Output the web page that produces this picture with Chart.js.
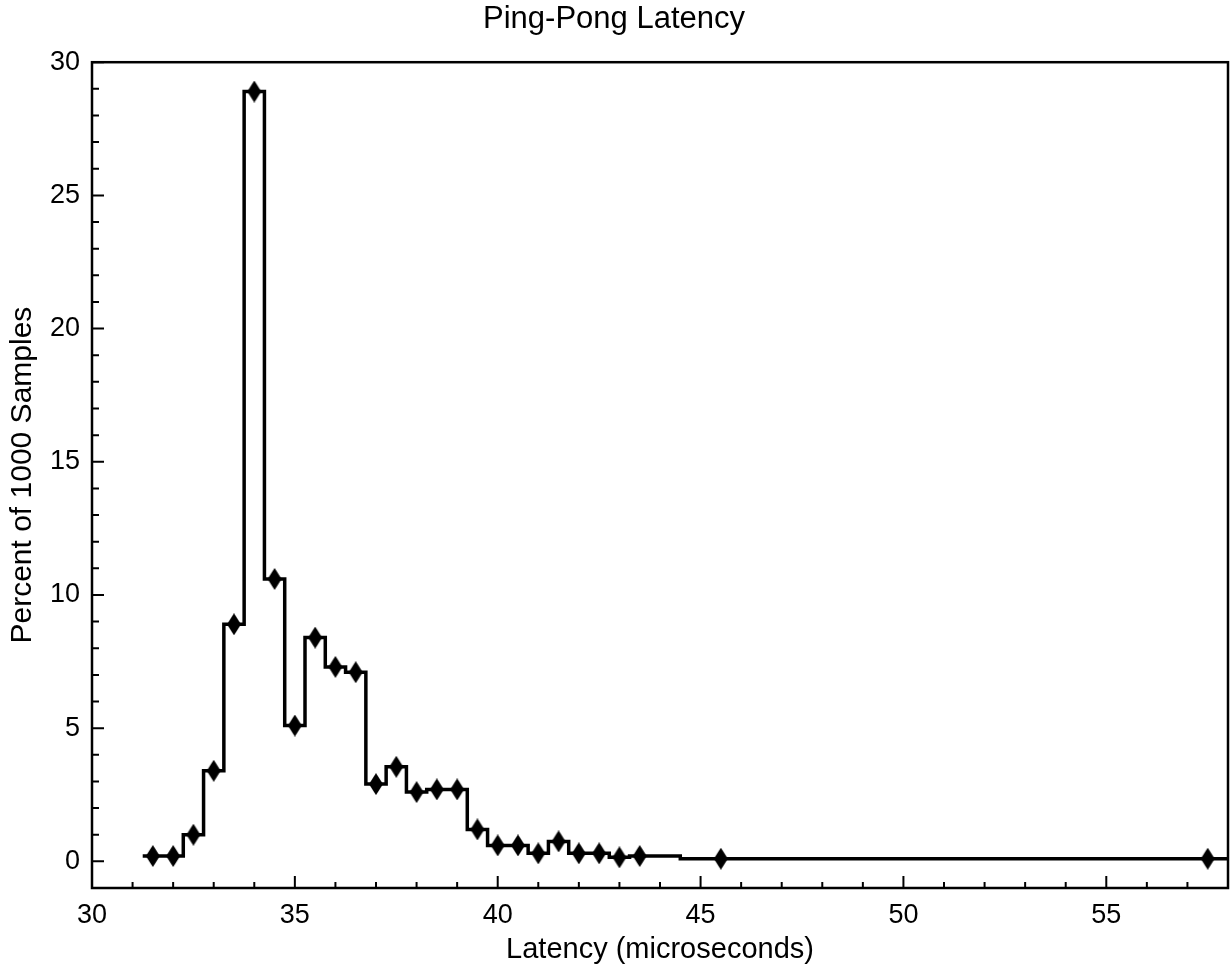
<!DOCTYPE html>
<html>
<head>
<meta charset="utf-8">
<title>Ping-Pong Latency</title>
<script src="https://cdn.jsdelivr.net/npm/chart.js@4/dist/chart.umd.min.js"></script>
<style>
  html, body { margin: 0; padding: 0; background: #fff; }
  canvas { display: block; }
</style>
</head>
<body>
<canvas id="latencyChart" width="1231" height="967"></canvas>
<script>
// Histogram bins (microseconds) and percent of samples in each bin
const latency = [31.5, 32, 32.5, 33, 33.5, 34, 34.5, 35, 35.5, 36, 36.5, 37, 37.5,
                 38, 38.5, 39, 39.5, 40, 40.5, 41, 41.5, 42, 42.5, 43, 43.5, 45.5, 57.5];
const percent = [0.2, 0.2, 1.0, 3.4, 8.9, 28.9, 10.6, 5.1, 8.4, 7.3, 7.1, 2.9, 3.55,
                 2.6, 2.7, 2.7, 1.2, 0.6, 0.6, 0.3, 0.75, 0.3, 0.3, 0.15, 0.2, 0.1, 0.1];

// Tick labels
const xTicks = [30, 35, 40, 45, 50, 55];
const yTicks = [0, 5, 10, 15, 20, 25, 30];

const xMin = 30, xMax = 58;
const yMin = -1, yMax = 30;
const binHalf = 0.25;

const FONT = "'Liberation Sans', Arial, Helvetica, sans-serif";

// tall diamond marker
function makeDiamond(w, h) {
    const c = document.createElement('canvas');
    c.width = w;
    c.height = h;
    const g = c.getContext('2d');
    g.fillStyle = '#000';
    g.beginPath();
    g.moveTo(w / 2, 0);
    g.lineTo(w, h / 2);
    g.lineTo(w / 2, h);
    g.lineTo(0, h / 2);
    g.closePath();
    g.fill();
    return c;
}
const diamond = makeDiamond(14, 22);

const points = latency.map((x, i) => ({ x: x, y: percent[i] }));

// step line extends half a bin before the first point and to the right edge
const stepLine = [{ x: latency[0] - binHalf, y: percent[0] }]
    .concat(points)
    .concat([{ x: xMax, y: percent[percent.length - 1] }]);

// frame and inward tick marks
const framePlugin = {
    id: 'frame',
    afterDatasetsDraw(chart) {
        const ctx = chart.ctx;
        const a = chart.chartArea;
        const xs = chart.scales.x;
        const ys = chart.scales.y;
        ctx.save();
        ctx.strokeStyle = '#000';
        ctx.lineWidth = 2;
        ctx.beginPath();
        for (let v = Math.ceil(xMin); v <= xMax; v++) {
            const px = xs.getPixelForValue(v);
            const len = v % 5 === 0 ? 12 : 6;
            ctx.moveTo(px, a.bottom);
            ctx.lineTo(px, a.bottom - len);
        }
        for (let v = 0; v <= yMax; v++) {
            const py = ys.getPixelForValue(v);
            const len = v % 5 === 0 ? 12 : 7;
            ctx.moveTo(a.left, py);
            ctx.lineTo(a.left + len, py);
        }
        ctx.stroke();
        ctx.lineWidth = 2.5;
        ctx.strokeRect(a.left, a.top, a.right - a.left, a.bottom - a.top);
        ctx.restore();
    }
};

const ctx = document.getElementById('latencyChart').getContext('2d');
const chart = new Chart(ctx, {
    type: 'scatter',
    data: {
        datasets: [
            {
                label: 'markers',
                data: points,
                showLine: false,
                pointStyle: diamond,
                pointRadius: 8,
                pointHoverRadius: 8
            },
            {
                label: 'histogram',
                data: stepLine,
                showLine: true,
                stepped: 'middle',
                borderColor: '#000',
                borderWidth: 3.5,
                pointRadius: 0,
                pointHoverRadius: 0,
                fill: false
            }
        ]
    },
    options: {
        responsive: false,
        animation: false,
        devicePixelRatio: 1,
        layout: { autoPadding: false, padding: { left: 0, right: 3, top: 0, bottom: 0 } },
        plugins: {
            legend: { display: false },
            tooltip: { enabled: false },
            title: {
                display: true,
                text: 'Ping-Pong Latency',
                color: '#000',
                font: { family: FONT, size: 31, weight: 'normal' },
                padding: { top: 1, bottom: 24 }
            }
        },
        scales: {
            x: {
                type: 'linear',
                min: xMin,
                max: xMax,
                grid: { display: false, drawTicks: false },
                border: { display: false },
                ticks: {
                    color: '#000',
                    font: { family: FONT, size: 27 },
                    padding: 11,
                    maxRotation: 0
                },
                afterBuildTicks: scale => {
                    scale.ticks = xTicks.map(v => ({ value: v }));
                },
                afterFit: scale => {
                    scale.height = 79;
                    scale.paddingLeft = 0;
                    scale.paddingRight = 0;
                },
                title: {
                    display: true,
                    text: 'Latency (microseconds)',
                    color: '#000',
                    font: { family: FONT, size: 29 },
                    padding: { top: 0, bottom: 0 }
                }
            },
            y: {
                type: 'linear',
                min: yMin,
                max: yMax,
                grid: { display: false, drawTicks: false },
                border: { display: false },
                ticks: {
                    color: '#000',
                    font: { family: FONT, size: 27 },
                    padding: 12
                },
                afterBuildTicks: scale => {
                    scale.ticks = yTicks.map(v => ({ value: v }));
                },
                afterFit: scale => {
                    scale.width = 92;
                    scale.paddingTop = 0;
                    scale.paddingBottom = 0;
                },
                title: {
                    display: true,
                    text: 'Percent of 1000 Samples',
                    color: '#000',
                    font: { family: FONT, size: 30 },
                    padding: { top: 5, bottom: 0 }
                }
            }
        }
    },
    plugins: [framePlugin]
});
</script>
</body>
</html>
